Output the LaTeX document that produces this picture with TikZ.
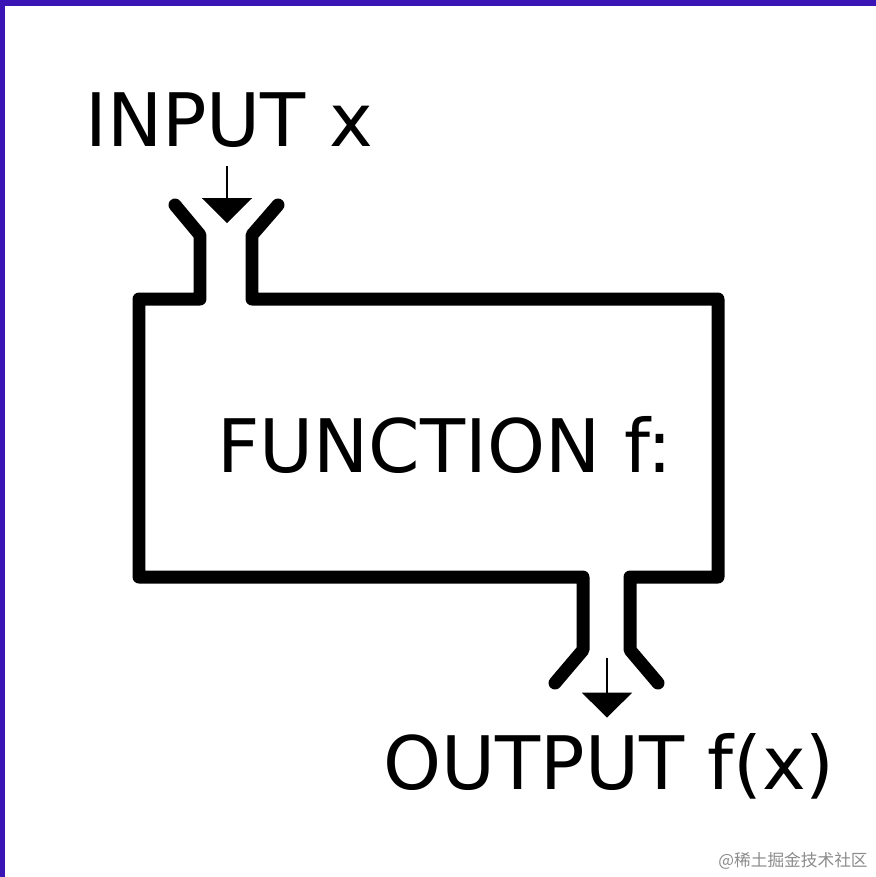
\documentclass[tikz,border=0pt]{standalone}
\usepackage{fontspec}
\setmainfont{DejaVu Sans}
\newfontfamily\cjkfont{Noto Sans CJK SC}
\usetikzlibrary{arrows.meta}
\definecolor{bordo}{HTML}{3A14B4}
\tikzset{
  testo/.style={inner sep=0pt, font=\fontsize{42}{50}\selectfont},
  imbuto/.style={line width=0.26cm, line join=round, line cap=round},
  freccia/.style={line width=0.05cm, -{Triangle[width=1cm,length=0.5cm]}}
}
\begin{document}
\begin{tikzpicture}[x=0.02cm,y=-0.02cm]
        \useasboundingbox (0,0) rectangle (876,877);
        \fill[white] (0,0) rectangle (876,877);
        % Bordo
        \fill[bordo] (0,0) rectangle (876,6);
        \fill[bordo] (0,0) rectangle (5,877);
        % Testi
        \node[testo, anchor=base west] (in) at (85,146) {INPUT x};
        \node[testo, anchor=base west] (fn) at (217,472) {FUNCTION f:};
        \node[testo, anchor=base west] (out) at (383,789) {OUTPUT f(x)};
        \node[anchor=base east, inner sep=0pt, text=black!45, font=\cjkfont\fontsize{9.5}{11}\selectfont] (wm) at (868,866) {@稀土掘金技术社区};
        % Imbuti
        \draw[imbuto] (175,205) -- (200,235) -- (200,299) -- (139,299) -- (139,577) -- (583,577) -- (583,650) -- (555,683);
        \draw[imbuto] (278,205) -- (252,235) -- (252,299) -- (718,299) -- (718,577) -- (630,577) -- (630,650) -- (658,683);
        % Frecce
        \coordinate (inTip) at (227,223);
        \coordinate (outStart) at (607,658);
        \draw[freccia, shorten <=0.38cm] (in.south -| inTip) -- (inTip);
        \draw[freccia, shorten >=0.3cm] (outStart) -- (out.north -| outStart);
    \end{tikzpicture}
\end{document}
